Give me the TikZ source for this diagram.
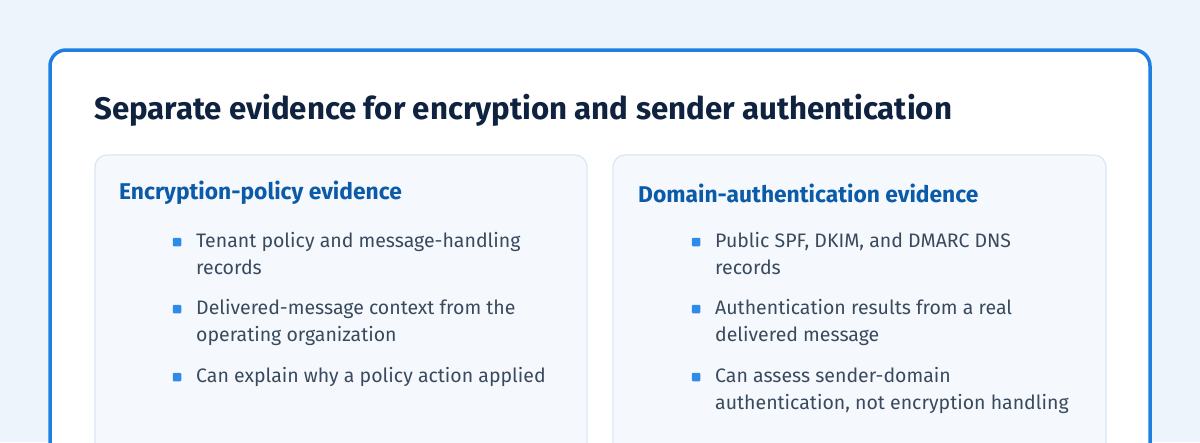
\documentclass[tikz,border=0pt]{standalone}
\usepackage{fontspec}
\setmainfont{Fira Sans}
\definecolor{bg}{HTML}{EEF4FB}
\definecolor{frame}{HTML}{1F7FE0}
\definecolor{title}{HTML}{0F2340}
\definecolor{head}{HTML}{0B5BA8}
\definecolor{panel}{HTML}{F5F9FD}
\definecolor{pline}{HTML}{DCE6F0}
\definecolor{txt}{HTML}{3A4A5E}
\definecolor{bul}{HTML}{2F8BEA}
\begin{document}
\begin{tikzpicture}[x=1pt,y=-1pt,
  panelst/.style={draw=pline,line width=1.2pt,fill=panel,rounded corners=12pt},
  headst/.style={anchor=west,text=head,font=\fontsize{22.8}{26}\selectfont\bfseries},
  itemst/.style={anchor=north west,text=txt,align=left,font=\fontsize{19.5}{27}\selectfont,inner sep=0pt},
  bulst/.style={fill=bul,rounded corners=1pt,minimum size=8.5pt,inner sep=0pt}]
\fill[bg] (0,0) rectangle (1200,442);
\useasboundingbox (0,0) rectangle (1200,442);
\begin{scope}
\clip (0,0) rectangle (1200,442);
\draw[frame,line width=3.5pt,fill=white,rounded corners=16pt] (50,50) rectangle (1150,520);
\draw[panelst] (95,155) rectangle (587,520);
\draw[panelst] (613,155) rectangle (1106,520);
\end{scope}
\node[anchor=west,text=title,font=\fontsize{31.2}{36}\selectfont\bfseries,inner sep=0pt] (t) at (94,110) {Separate evidence for encryption and sender authentication};
\node[headst,inner sep=0pt] (h1) at (119,193) {Encryption-policy evidence};
\node[headst,inner sep=0pt] (h2) at (638,193) {Domain-authentication evidence};
\foreach \n/\y/\s in {a1/229/{Tenant policy and message-handling\\records},a2/296/{Delivered-message context from the\\operating organization},a3/364/{Can explain why a policy action applied}}{
  \node[itemst] (\n) at (196,\y+3) {\s};
  \node[bulst] at (177,\y+13) {};
}
\foreach \n/\y/\s in {c1/229/{Public SPF, DKIM, and DMARC DNS\\records},c2/296/{Authentication results from a real\\delivered message},c3/364/{Can assess sender-domain\\authentication, not encryption handling}}{
  \node[itemst] (\n) at (715,\y+3) {\s};
  \node[bulst] at (696,\y+13) {};
}
\end{tikzpicture}
\end{document}
